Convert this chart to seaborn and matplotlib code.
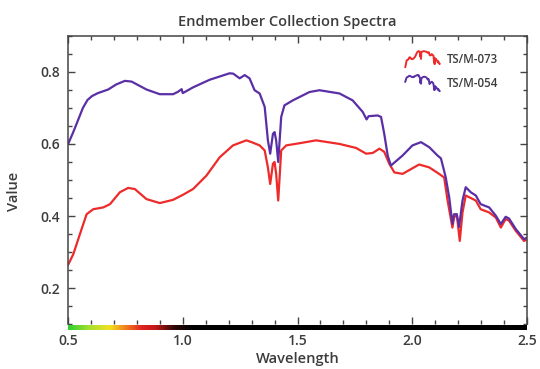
import numpy as np
import pandas as pd
import matplotlib
matplotlib.use("Agg")
import matplotlib.pyplot as plt
import seaborn as sns
from matplotlib.legend_handler import HandlerBase
from matplotlib.lines import Line2D
from matplotlib.ticker import MultipleLocator
from matplotlib.colors import LinearSegmentedColormap

# ---------------- data ----------------
series_names = ["TS/M-073", "TS/M-054"]
series_colors = ["#ee2a2a", "#5a2fa6"]

wl_073 = [0.500, 0.523, 0.552, 0.581, 0.610, 0.654, 0.683, 0.726, 0.762, 0.791, 0.842, 0.900,
          0.958, 1.001, 1.045, 1.103, 1.161, 1.219, 1.277, 1.300, 1.335, 1.357, 1.371, 1.381,
          1.393, 1.400, 1.407, 1.416, 1.429, 1.451, 1.509, 1.581, 1.683, 1.755, 1.799, 1.828,
          1.857, 1.878, 1.900, 1.922, 1.958, 2.030, 2.074, 2.117, 2.139, 2.154, 2.175, 2.182,
          2.194, 2.207, 2.219, 2.233, 2.255, 2.277, 2.298, 2.335, 2.364, 2.386, 2.407, 2.422,
          2.451, 2.487, 2.500]
val_073 = [0.264, 0.294, 0.350, 0.405, 0.419, 0.424, 0.433, 0.466, 0.478, 0.475, 0.447, 0.436,
           0.445, 0.459, 0.475, 0.512, 0.563, 0.596, 0.610, 0.605, 0.596, 0.582, 0.535, 0.489,
           0.545, 0.550, 0.517, 0.443, 0.582, 0.596, 0.602, 0.610, 0.600, 0.589, 0.573, 0.575,
           0.587, 0.578, 0.545, 0.521, 0.517, 0.543, 0.535, 0.517, 0.507, 0.443, 0.368, 0.395,
           0.405, 0.331, 0.410, 0.457, 0.450, 0.443, 0.419, 0.410, 0.396, 0.368, 0.392, 0.387,
           0.359, 0.331, 0.335]

wl_054 = [0.500, 0.523, 0.545, 0.565, 0.585, 0.605, 0.630, 0.675, 0.710, 0.748, 0.777, 0.842,
          0.900, 0.958, 0.980, 0.995, 1.000, 1.045, 1.117, 1.204, 1.220, 1.248, 1.270, 1.291,
          1.313, 1.335, 1.357, 1.371, 1.381, 1.393, 1.400, 1.407, 1.416, 1.429, 1.443, 1.480,
          1.552, 1.596, 1.683, 1.740, 1.784, 1.801, 1.810, 1.849, 1.864, 1.878, 1.893, 1.907,
          1.958, 2.001, 2.038, 2.074, 2.110, 2.125, 2.146, 2.161, 2.175, 2.182, 2.194, 2.204,
          2.219, 2.233, 2.255, 2.277, 2.298, 2.335, 2.364, 2.386, 2.407, 2.422, 2.451, 2.487,
          2.500]
val_054 = [0.599, 0.633, 0.668, 0.700, 0.722, 0.733, 0.741, 0.751, 0.765, 0.775, 0.773, 0.751,
           0.738, 0.738, 0.745, 0.752, 0.741, 0.757, 0.778, 0.796, 0.795, 0.782, 0.791, 0.782,
           0.749, 0.740, 0.703, 0.610, 0.573, 0.628, 0.633, 0.610, 0.550, 0.675, 0.707, 0.721,
           0.744, 0.749, 0.740, 0.721, 0.689, 0.668, 0.677, 0.679, 0.675, 0.628, 0.568, 0.540,
           0.568, 0.596, 0.605, 0.591, 0.568, 0.560, 0.507, 0.452, 0.378, 0.405, 0.405, 0.370,
           0.443, 0.480, 0.466, 0.457, 0.433, 0.424, 0.401, 0.378, 0.398, 0.393, 0.364, 0.336,
           0.340]

x_ticks = [0.5, 1.0, 1.5, 2.0, 2.5]
y_ticks = [0.2, 0.4, 0.6, 0.8]

df = pd.concat([
    pd.DataFrame({"Wavelength": wl_073, "Value": val_073, "Series": series_names[0]}),
    pd.DataFrame({"Wavelength": wl_054, "Value": val_054, "Series": series_names[1]}),
], ignore_index=True)

# ---------------- style ----------------
sns.set_style("white")
plt.rcParams["font.family"] = ["Open Sans", "DejaVu Sans"]
text_col = "#3c3c3c"

fig = plt.figure(figsize=(5.4, 3.69), dpi=100)
W, H = 540, 369
ax = fig.add_axes([68 / W, (H - 324.2) / H, (527 - 68) / W, 288.4 / H])

sns.lineplot(data=df, x="Wavelength", y="Value", hue="Series",
             palette=dict(zip(series_names, series_colors)),
             estimator=None, sort=False, linewidth=1.6, ax=ax, legend=False)

ax.set_xlim(0.5, 2.5)
ax.set_ylim(0.1, 0.9)
ax.set_xticks(x_ticks)
ax.set_xticklabels([f"{v:.1f}" for v in x_ticks])
ax.set_yticks(y_ticks)
ax.set_yticklabels([f"{v:.1f}" for v in y_ticks])
ax.xaxis.set_minor_locator(MultipleLocator(0.1))
ax.yaxis.set_minor_locator(MultipleLocator(0.05))
ax.tick_params(which="both", direction="in", top=True, right=True, bottom=True, left=True,
               colors="#444444", labelcolor=text_col, width=1.0)
ax.tick_params(which="major", length=5, labelsize=10)
ax.tick_params(axis="y", which="major", pad=5.5)
ax.tick_params(axis="x", which="major", pad=7)
ax.tick_params(which="minor", length=3)
for lab in ax.get_xticklabels() + ax.get_yticklabels():
    lab.set_fontweight("semibold")

for side in ["left", "right", "top"]:
    ax.spines[side].set_color("#444444")
    ax.spines[side].set_linewidth(1.1)
ax.spines["bottom"].set_visible(False)

ax.set_xlabel("Wavelength", fontsize=10.5, color=text_col, fontweight="semibold", labelpad=3)
ax.set_ylabel("Value", fontsize=10.5, color=text_col, fontweight="semibold")
ax.yaxis.set_label_coords(-0.102, 0.46)
ax.set_title("Endmember Collection Spectra", fontsize=10.5, color=text_col,
             fontweight="semibold", pad=7, x=0.478)

# spectrum colour bar along the bottom edge
cmap = LinearSegmentedColormap.from_list(
    "vis", [(0.0, "#2fd02f"), (0.045, "#a8e030"), (0.09, "#f2e020"), (0.13, "#f07020"),
            (0.16, "#e02020"), (0.19, "#c01818"), (0.23, "#300808"), (0.27, "#000000"),
            (1.0, "#000000")])
bar_ax = ax.inset_axes([0, -(330.0 - 324.2) / 288.4, 1, 5.0 / 288.4])
grad = np.linspace(0, 1, 512)[np.newaxis, :]
bar_ax.imshow(grad, aspect="auto", cmap=cmap, extent=(0.5, 2.5, 0, 1),
              interpolation="bilinear")
bar_ax.set_xticks([])
bar_ax.set_yticks([])
bar_ax.set_axis_off()


# legend with miniature spectra as handles
class MiniSpectrum(HandlerBase):
    def __init__(self, wl, val, color):
        super().__init__()
        self.wl = np.asarray(wl)
        self.val = np.asarray(val)
        self.color = color

    def create_artists(self, legend, orig_handle, xdescent, ydescent, width, height,
                       fontsize, trans):
        xw = (self.wl - self.wl.min()) / (self.wl.max() - self.wl.min())
        vv = (self.val - self.val.min()) / (self.val.max() - self.val.min())
        xx = -xdescent + xw * width
        yy = -ydescent + height * (-0.55 + 2.0 * vv)
        ln = Line2D(xx, yy, color=self.color, linewidth=1.4, transform=trans)
        return [ln]


handles = [Line2D([], [], color=c) for c in series_colors]
handler_map = {
    handles[0]: MiniSpectrum(wl_073, val_073, series_colors[0]),
    handles[1]: MiniSpectrum(wl_054, val_054, series_colors[1]),
}
leg = ax.legend(handles, series_names, handler_map=handler_map, loc="upper right",
                bbox_to_anchor=(0.952, 0.965), frameon=False, fontsize=8.3,
                handlelength=3.0, handletextpad=0.6, labelspacing=0.95,
                borderaxespad=0.2)
for t in leg.get_texts():
    t.set_color(text_col)
    t.set_fontweight("semibold")

fig.savefig("out.png", dpi=100)
